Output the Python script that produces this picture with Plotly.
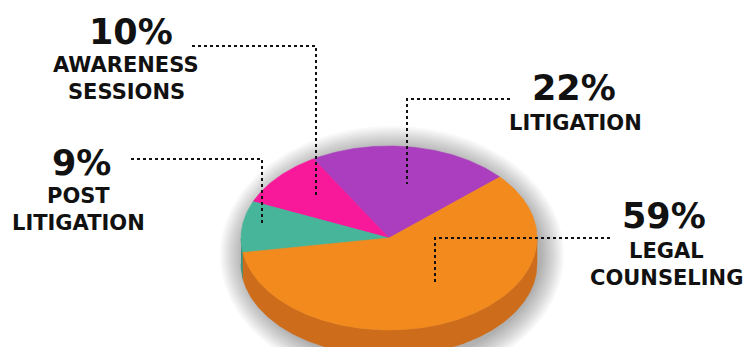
import numpy as np
import plotly.graph_objects as go

# ---------------- data ----------------
categories = ["LITIGATION", "AWARENESS SESSIONS", "POST LITIGATION", "LEGAL COUNSELING"]
name_lines = [["LITIGATION"], ["AWARENESS", "SESSIONS"], ["POST", "LITIGATION"], ["LEGAL", "COUNSELING"]]
values = [22, 10, 9, 59]

# ---------------- style / layout ----------------
top_colors = ["#AB3EBF", "#F7199A", "#47B59A", "#F28A1E"]
side_colors = ["#86309A", "#C2137A", "#37907A", "#CD6C1A"]
W, H = 744, 347
CX, CY, RX, RY, DEPTH = 389, 238, 148, 92, 26
START_DEG = 41.5  # parametric angle where the first slice starts (counter-clockwise)

# label placement (percent centre x, percent cap-centre y, name centre x, name first-line y)
label_pos = [
    (574, 88, 575, 123),
    (131, 32, 126, 65),
    (81, 163, 78, 196),
    (664, 216, 666, 251),
]
# dotted leaders: (x_text_end, y_horizontal, x_elbow, y_end)
leaders = [
    (510, 99, 407, 184),
    (192, 46, 316, 198),
    (131, 159, 262, 224),
    (610, 238, 435, 284),
]
FONT = "DejaVu Sans"


def ell(t_deg, dy=0.0):
    t = np.radians(t_deg)
    return CX + RX * np.cos(t), CY - RY * np.sin(t) + dy


fig = go.Figure()

# soft shadow
for k in range(12, 0, -1):
    t = np.linspace(0, 360, 181)
    x = CX + 3 + (RX + 2 * k) * np.cos(np.radians(t))
    y = CY + DEPTH / 2 + 4 - (RY + DEPTH / 2 + 2 * k) * np.sin(np.radians(t))
    fig.add_trace(go.Scatter(x=x, y=y, mode="lines", fill="toself",
                             fillcolor="rgba(0,0,0,0.026)", line=dict(width=0),
                             hoverinfo="skip", showlegend=False))

total = float(sum(values))
bounds = []
a = START_DEG
for v in values:
    b = a + 360.0 * v / total
    bounds.append((a, b))
    a = b

# sides (front half: 180..360 modulo 360)
for (a, b), col in zip(bounds, side_colors):
    for shift in (-360, 0, 360):
        lo = max(a, 180 + shift)
        hi = min(b, 360 + shift)
        if hi <= lo:
            continue
        t = np.linspace(lo, hi, max(3, int((hi - lo) * 2)))
        xs_t, ys_t = ell(t)
        xs_b, ys_b = ell(t[::-1], DEPTH)
        fig.add_trace(go.Scatter(x=np.concatenate([xs_t, xs_b]), y=np.concatenate([ys_t, ys_b]),
                                 mode="lines", fill="toself", fillcolor=col,
                                 line=dict(width=0.6, color=col), hoverinfo="skip",
                                 showlegend=False))

# top faces
for (a, b), col, name in zip(bounds, top_colors, categories):
    t = np.linspace(a, b, max(3, int((b - a) * 2)))
    xs, ys = ell(t)
    fig.add_trace(go.Scatter(x=np.concatenate([[CX], xs, [CX]]), y=np.concatenate([[CY], ys, [CY]]),
                             mode="lines", fill="toself", fillcolor=col,
                             line=dict(width=0.6, color=col), name=name,
                             hoverinfo="name", showlegend=False))

# leaders
for (x0, y0, x1, y1) in leaders:
    fig.add_trace(go.Scatter(x=[x0, x1, x1], y=[y0, y0, y1], mode="lines",
                             line=dict(color="#111111", width=2, dash="dot"),
                             hoverinfo="skip", showlegend=False))

annotations = []
for v, lines, (px, py, nx, ny) in zip(values, name_lines, label_pos):
    annotations.append(dict(x=px, y=py, xref="x", yref="y", text=f"<b>{v}%</b>",
                            showarrow=False, xanchor="center", yanchor="middle",
                            font=dict(family=FONT, size=35, color="#111111")))
    for i, ln in enumerate(lines):
        annotations.append(dict(x=nx, y=ny + i * 27, xref="x", yref="y", text=f"<b>{ln}</b>",
                                showarrow=False, xanchor="center", yanchor="middle",
                                font=dict(family=FONT, size=21, color="#111111")))

fig.update_layout(
    width=W, height=H, margin=dict(l=0, r=0, t=0, b=0),
    paper_bgcolor="white", plot_bgcolor="white",
    xaxis=dict(range=[0, W], visible=False, fixedrange=True),
    yaxis=dict(range=[H, 0], visible=False, fixedrange=True),
    annotations=annotations,
)

fig.write_html("out.html", config={"displayModeBar": False},
               post_script="document.body.style.margin='0';document.body.style.overflow='hidden';")
